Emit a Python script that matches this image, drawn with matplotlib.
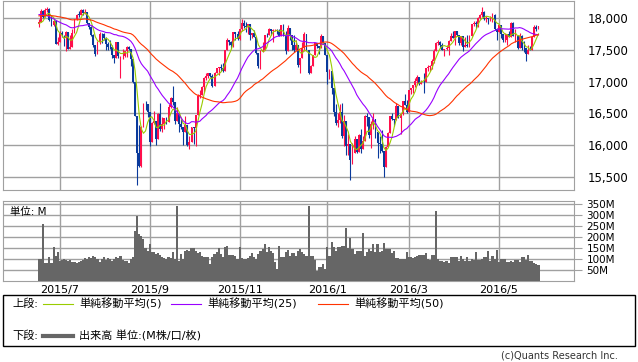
import numpy as np
import pandas as pd
import matplotlib
matplotlib.use('Agg')
import matplotlib.pyplot as plt
from matplotlib.patches import Rectangle
from matplotlib.lines import Line2D

plt.rcParams['font.family'] = ['DejaVu Sans', 'Noto Sans CJK JP']

# closes before the visible window (needed for the moving averages)
pre_closes = [17880, 17875, 17903, 17958, 18057, 17977, 18036, 18112, 18105, 17826, 18034, 17950, 18038, 18058, 18080, 18037, 18110, 18035, 17841,
              18024, 18070, 17928, 17842, 17925, 18191, 18105, 18068, 18060, 18252, 18272, 18298, 18312, 18285, 18285, 18232, 18041, 18163, 18126, 18011,
              18040, 18011, 18076, 17906, 17849, 17767, 17765, 18000, 18039, 17899, 17791, 17904]

# daily OHLC 2015/6/17 - 2016/5/27
opens = [17904, 17935, 18115, 18015, 18119, 18144, 17966, 17890, 17947, 17596,
         17620, 17757, 17700, 17683, 17776, 17515, 17548, 17760, 17977, 18054, 18050, 18120, 18086, 18100, 17919, 17851, 17731, 17568, 17440, 17630, 17751, 17746,
         17690, 17598, 17550, 17540, 17419, 17373, 17615, 17402, 17403, 17409, 17477, 17545, 17512, 17349, 16990, 16460, 15871, 15666, 16285, 16655, 16643,
         16528, 16058, 16351, 16374, 16102, 16492, 16254, 16330, 16433, 16370, 16599, 16740, 16675, 16385, 16511, 16331, 16280, 16201, 16315, 16001, 16049,
         16285, 16272, 16473, 16777, 16790, 16912, 17050, 17084, 17131, 17082, 16925, 17142, 17216, 17231, 17218, 17169, 17489, 17647, 17623, 17582, 17780, 17756,
         17664, 17829, 17918, 17867, 17863, 17910, 17730, 17758, 17702, 17448, 17245, 17484, 17490, 17737, 17733, 17823, 17792, 17812, 17813, 17798,
         17720, 17888, 17730, 17478, 17848, 17731, 17568, 17493, 17575, 17265, 17368, 17525, 17750, 17495, 17128, 17252, 17418, 17603, 17553, 17528, 17721, 17604,
         17425, 17149, 17159, 16907, 16515, 16347, 16399, 16517, 16152, 16380, 15988, 16016, 15767, 15883, 16094, 15886, 16168, 15944, 16070,
         16466, 16449, 16154, 16337, 16417, 16205, 16027, 16014, 15915, 15660, 15974, 16196, 16454, 16413, 16392, 16620, 16431, 16485, 16698, 16640,
         16517, 16865, 16899, 16944, 17007, 17074, 16965, 17001, 16995, 17213, 17229, 17251, 17326, 17481, 17602, 17624, 17583, 17503, 17516, 17536, 17634, 17717,
         17685, 17793, 17737, 17603, 17717, 17542, 17577, 17556, 17721, 17908, 17926, 17898, 18004, 18053, 18096, 17983, 18003, 17977, 17991, 18042, 17831,
         17774, 17892, 17751, 17652, 17661, 17741, 17706, 17928, 17711, 17721, 17535, 17711, 17530, 17527, 17436, 17501, 17493, 17706, 17851, 17829]
highs = [17990, 18140, 18120, 18160, 18175, 18150, 18040, 17990, 17947, 17700,
         17800, 17800, 17730, 17800, 17776, 17735, 17830, 17980, 18070, 18110, 18140, 18135, 18140, 18100, 17920, 17880, 17750, 17570, 17640, 17780, 17770, 17770,
         17700, 17620, 17650, 17580, 17420, 17630, 17615, 17410, 17520, 17480, 17560, 17560, 17512, 17349, 16990, 16460, 16310, 16300, 16660, 16700, 16643,
         16528, 16360, 16530, 16374, 16510, 16665, 16450, 16435, 16450, 16645, 16755, 16935, 16675, 16600, 16511, 16410, 16280, 16465, 16315, 16150, 16285,
         16285, 16475, 16800, 16870, 16930, 17070, 17140, 17140, 17131, 17120, 17150, 17220, 17235, 17270, 17290, 17500, 17690, 17650, 17640, 17780, 17780, 17800,
         17830, 17980, 17965, 17935, 17910, 17910, 17770, 17815, 17702, 17448, 17490, 17630, 17740, 17770, 17850, 17830, 17820, 17830, 17830, 17820,
         17890, 17900, 17790, 17890, 17850, 17731, 17740, 17650, 17575, 17370, 17620, 17780, 17750, 17495, 17260, 17420, 17610, 17610, 17553, 17750, 17721, 17604,
         17425, 17195, 17159, 16907, 16650, 16510, 16650, 16660, 16480, 16380, 16180, 16016, 16040, 16140, 16094, 16170, 16250, 16150, 16470,
         16510, 16449, 16380, 16510, 16417, 16205, 16140, 16240, 15915, 15980, 16200, 16460, 16510, 16413, 16660, 16620, 16500, 16700, 16800, 16710,
         16870, 16900, 16945, 17060, 17100, 17074, 17030, 17130, 17220, 17260, 17260, 17360, 17510, 17620, 17650, 17640, 17600, 17520, 17570, 17650, 17760, 17790,
         17800, 17800, 17737, 17720, 17717, 17700, 17730, 17740, 17910, 17950, 17950, 18010, 18070, 18170, 18110, 18030, 18003, 18030, 18080, 18060, 17840,
         17910, 17892, 17751, 17760, 17750, 17790, 17930, 17930, 17820, 17730, 17760, 17730, 17640, 17527, 17570, 17560, 17720, 17890, 17890, 17875]
lows = [17860, 17930, 18000, 18015, 18100, 17960, 17880, 17880, 17590, 17575,
        17620, 17700, 17560, 17475, 17505, 17510, 17548, 17760, 17970, 18020, 18050, 18040, 18060, 17900, 17820, 17710, 17550, 17400, 17440, 17590, 17600, 17660,
        17500, 17500, 17520, 17370, 17290, 17373, 17370, 17050, 17360, 17380, 17380, 17490, 17250, 16980, 16455, 15370, 15650, 15660, 16285, 16550, 16450,
        15980, 16058, 16330, 16000, 16102, 16220, 16200, 16250, 16330, 16370, 16580, 16630, 16340, 16385, 16210, 16250, 16000, 16201, 15980, 15940, 16049,
        16015, 15980, 16473, 16740, 16790, 16840, 17020, 17050, 17070, 16920, 16925, 17140, 17110, 17160, 17150, 17169, 17489, 17580, 17530, 17550, 17660, 17660,
        17660, 17800, 17840, 17780, 17750, 17650, 17680, 17700, 17440, 17210, 17200, 17470, 17490, 17700, 17733, 17740, 17630, 17790, 17750, 17710,
        17720, 17720, 17430, 17478, 17650, 17500, 17460, 17490, 17230, 17140, 17368, 17480, 17490, 17125, 17128, 17250, 17418, 17530, 17440, 17528, 17590, 17420,
        16960, 17038, 16810, 16460, 16315, 16290, 16350, 16120, 15990, 15840, 15850, 15450, 15700, 15883, 15880, 15886, 15880, 15944, 16070,
        16300, 16120, 15960, 16260, 16120, 15800, 15880, 15900, 15500, 15660, 15974, 16196, 16400, 16300, 16392, 16420, 16170, 16480, 16640, 16510,
        16517, 16800, 16820, 16920, 16950, 16940, 16960, 16820, 16995, 17160, 17160, 17200, 17300, 17480, 17580, 17530, 17500, 17400, 17490, 17420, 17634, 17680,
        17570, 17710, 17580, 17580, 17480, 17540, 17550, 17550, 17721, 17880, 17850, 17860, 17990, 18020, 17970, 17940, 17910, 17950, 17940, 17810, 17660,
        17774, 17690, 17620, 17630, 17580, 17700, 17706, 17710, 17630, 17510, 17535, 17500, 17460, 17330, 17436, 17490, 17493, 17706, 17800, 17820]
closes = [17935, 18115, 18015, 18119, 18144, 17966, 17890, 17947, 17596, 17620,
          17757, 17730, 17683, 17776, 17515, 17548, 17760, 17977, 18054, 18050, 18120, 18086, 18100, 17919, 17851, 17731, 17568, 17440, 17630, 17751, 17746, 17690,
          17598, 17550, 17540, 17419, 17373, 17615, 17402, 17403, 17409, 17477, 17545, 17512, 17349, 16990, 16460, 15871, 15666, 16285, 16655, 16643, 16528,
          16058, 16351, 16374, 16102, 16492, 16254, 16330, 16433, 16370, 16599, 16740, 16675, 16385, 16511, 16331, 16280, 16201, 16315, 16001, 16049, 16285,
          16272, 16473, 16777, 16790, 16912, 17050, 17084, 17131, 17082, 16925, 17142, 17216, 17231, 17218, 17169, 17489, 17647, 17623, 17582, 17780, 17756, 17664,
          17829, 17918, 17867, 17863, 17910, 17730, 17758, 17702, 17448, 17245, 17484, 17490, 17737, 17733, 17823, 17792, 17812, 17813, 17798, 17720,
          17888, 17730, 17478, 17848, 17731, 17568, 17493, 17575, 17265, 17368, 17525, 17750, 17495, 17128, 17252, 17418, 17603, 17553, 17528, 17721, 17604, 17425,
          17149, 17159, 16907, 16515, 16347, 16399, 16517, 16152, 16380, 15988, 16016, 15767, 15883, 16094, 15886, 16168, 15944, 16070, 16466,
          16449, 16154, 16337, 16417, 16205, 16027, 16014, 15915, 15660, 15974, 16196, 16454, 16413, 16392, 16620, 16431, 16485, 16698, 16640, 16517,
          16865, 16899, 16944, 17007, 17074, 16965, 17001, 16995, 17213, 17229, 17251, 17326, 17481, 17602, 17624, 17583, 17503, 17516, 17536, 17634, 17717, 17685,
          17793, 17737, 17603, 17717, 17542, 17577, 17556, 17721, 17908, 17926, 17898, 18004, 18053, 18096, 17983, 18003, 17977, 17991, 18042, 17831, 17774,
          17892, 17751, 17652, 17661, 17741, 17706, 17928, 17711, 17721, 17535, 17711, 17530, 17527, 17436, 17501, 17493, 17706, 17851, 17829, 17873]
# volume, M shares
volumes = [99, 99, 259, 81, 81, 108, 81, 157, 116, 131,
           93, 96, 101, 96, 93, 96, 88, 85, 84, 88, 90, 96, 105, 99, 108, 104, 116, 108, 101, 85, 99, 108,
           96, 104, 99, 93, 99, 108, 104, 113, 96, 90, 93, 84, 99, 108, 231, 297, 216, 208, 193, 151, 139,
           170, 131, 131, 124, 127, 121, 108, 105, 101, 108, 105, 131, 101, 343, 93, 124, 101, 139, 142, 136, 150,
           150, 136, 127, 131, 113, 108, 111, 108, 78, 108, 124, 131, 151, 124, 111, 154, 159, 121, 119, 119, 116, 101,
           154, 104, 101, 101, 104, 113, 127, 108, 101, 124, 136, 147, 167, 131, 154, 136, 127, 88, 54, 159,
           108, 108, 131, 142, 116, 127, 127, 116, 136, 147, 131, 124, 116, 343, 116, 116, 96, 47, 62, 62, 78, 57,
           154, 116, 177, 154, 139, 154, 157, 159, 162, 242, 151, 196, 147, 124, 136, 139, 139, 219, 116,
           134, 147, 139, 167, 131, 170, 134, 136, 173, 147, 147, 147, 127, 136, 104, 104, 101, 101, 101, 131,
           108, 108, 105, 108, 116, 119, 119, 121, 127, 101, 96, 121, 121, 320, 101, 93, 93, 88, 93, 84, 108, 108,
           108, 108, 93, 116, 101, 93, 108, 93, 99, 96, 131, 96, 96, 101, 108, 108, 136, 90, 113, 101, 142,
           85, 101, 101, 99, 85, 85, 93, 88, 96, 96, 88, 108, 108, 96, 119, 93, 90, 84, 78, 73]

holidays = ['2015-07-03', '2015-09-07', '2015-11-26', '2015-12-25',
            '2016-01-01', '2016-01-18', '2016-02-15', '2016-03-25']
month_labels = ['2015/7', '2015/9', '2015/11', '2016/1', '2016/3', '2016/5']
price_ticks = [15500, 16000, 16500, 17000, 17500, 18000]
vol_ticks = [50, 100, 150, 200, 250, 300, 350]

dates = pd.bdate_range('2015-06-17', '2016-05-27')
dates = dates[~dates.isin(pd.to_datetime(holidays))]
n = len(closes)
x = np.arange(n)
month_pos = [dates.searchsorted(pd.Timestamp(m.replace('/', '-') + '-01')) for m in month_labels]

all_closes = pd.Series(pre_closes + closes)
ma5 = all_closes.rolling(5).mean().to_numpy()[len(pre_closes):]
ma25 = all_closes.rolling(25).mean().to_numpy()[len(pre_closes):]
ma50 = all_closes.rolling(50).mean().to_numpy()[len(pre_closes):]

W, H = 638, 362
fig = plt.figure(figsize=(W / 100, H / 100), dpi=100)
ax = fig.add_axes([3 / W, 1 - 190 / H, 571 / W, 189 / H])
axv = fig.add_axes([3 / W, 1 - 281 / H, 571 / W, 80 / H])

grid_c = '#a0a0a0'
up_c, dn_c = '#ff0f4b', '#0a3a9c'

o = np.array(opens)
c = np.array(closes)
cols = [up_c if cc >= oo else dn_c for oo, cc in zip(o, c)]
ax.vlines(x, lows, highs, colors=cols, lw=0.8, zorder=3)
body = np.maximum(np.abs(c - o), 6)
ax.bar(x, body, bottom=np.minimum(o, c), width=0.9, color=cols, lw=0, zorder=3)
ax.plot(x, ma5, color='#99cc00', lw=0.8, zorder=4)
ax.plot(x, ma25, color='#9900ff', lw=0.8, zorder=4)
ax.plot(x, ma50, color='#ff3300', lw=0.8, zorder=4)

for a in (ax, axv):
    a.set_xlim(-17.2, 256)
    a.set_xticks(month_pos)
    a.grid(True, color=grid_c, lw=1)
    a.set_axisbelow(True)
    for s in a.spines.values():
        s.set_color(grid_c)
    a.yaxis.tick_right()

ax.set_ylim(15296, 18267)
ax.set_yticks(price_ticks)
ax.set_yticklabels(['{:,}'.format(v) for v in price_ticks])
ax.tick_params(axis='y', length=0, pad=10, labelsize=8.5)
ax.tick_params(axis='x', length=0, labelbottom=False)

axv.bar(x, volumes, width=1.0, color='#666666', lw=0, zorder=3)
axv.set_ylim(0, 366)
axv.set_yticks(vol_ticks)
axv.set_yticklabels(['%dM' % v for v in vol_ticks])
axv.tick_params(axis='y', length=6, color=grid_c, pad=3, labelsize=7.5)
axv.set_xticklabels(month_labels)
axv.tick_params(axis='x', length=0, pad=3, labelsize=8)
axv.text(0.012, 0.93, '単位: M', transform=axv.transAxes, va='top', ha='left', fontsize=7.5)

# legend box
fig.patches.append(Rectangle((3 / W, 1 - 346 / H), 632 / W, 51 / H, transform=fig.transFigure,
                             fill=False, ec='black', lw=1))
y1 = 1 - 304 / H
y2 = 1 - 336 / H
fig.text(12 / W, y1, '上段:', va='center', fontsize=8)
fig.text(12 / W, y2, '下段:', va='center', fontsize=8)
legend_items = [(43, '#99cc00', '単純移動平均(5)'), (171, '#9900ff', '単純移動平均(25)'), (318, '#ff3300', '単純移動平均(50)')]
for lx, col, lab in legend_items:
    fig.lines.append(Line2D([lx / W, (lx + 30) / W], [y1, y1], transform=fig.transFigure, color=col, lw=0.8))
    fig.text((lx + 36) / W, y1, lab, va='center', fontsize=8)
fig.lines.append(Line2D([43 / W, 73 / W], [y2, y2], transform=fig.transFigure, color='#666666', lw=3))
fig.text(79 / W, y2, '出来高 単位:(M株/口/枚)', va='center', fontsize=8)
fig.text(618 / W, 1 - 356 / H, '(c)Quants Research Inc.', ha='right', va='center', fontsize=7, color='#333333')

fig.savefig('out.png', dpi=100)
